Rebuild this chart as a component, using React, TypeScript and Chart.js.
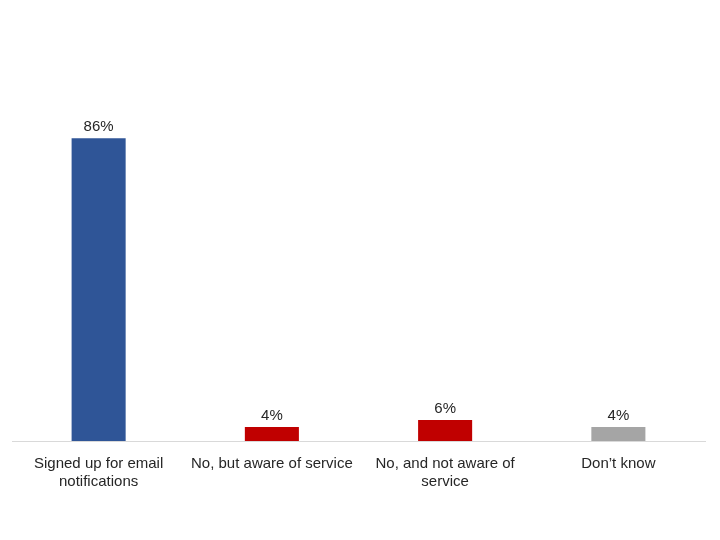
import React, { useEffect, useRef } from "react";
import { Chart, registerables } from "chart.js";

Chart.register(...registerables);

const categories: (string | string[])[] = [
  ["Signed up for email", "notifications"],
  "No, but aware of service",
  ["No, and not aware of", "service"],
  "Don\u2019t know",
];
const values: number[] = [86, 4, 6, 4];
const barColors: string[] = ["#2F5597", "#C00000", "#C00000", "#A5A5A5"];

const FONT = "'Liberation Sans', Arial, sans-serif";

const labelPlugin = {
  id: "valueLabels",
  afterDatasetsDraw(chart: any) {
    const ctx = chart.ctx;
    const meta = chart.getDatasetMeta(0);
    ctx.save();
    ctx.font = `15px ${FONT}`;
    ctx.fillStyle = "#262626";
    ctx.textAlign = "center";
    ctx.textBaseline = "bottom";
    meta.data.forEach((bar: any, i: number) => {
      ctx.fillText(values[i] + "%", bar.x, bar.y - 4);
    });
    ctx.restore();
  },
};

export default function App() {
  const ref = useRef<HTMLCanvasElement>(null);
  useEffect(() => {
    if (!ref.current) return;
    const chart = new Chart(ref.current, {
      type: "bar",
      data: {
        labels: categories,
        datasets: [
          {
            data: values,
            backgroundColor: barColors,
            barPercentage: 0.312,
            categoryPercentage: 1,
          },
        ],
      },
      options: {
        animation: false,
        responsive: false,
        maintainAspectRatio: false,
        layout: { padding: { left: 12, right: 15, top: 89, bottom: 43 } },
        plugins: { legend: { display: false }, tooltip: { enabled: false } },
        scales: {
          y: { display: false, min: 0, max: 100 },
          x: {
            grid: { display: false },
            border: { color: "#D9D9D9", width: 1 },
            ticks: {
              color: "#262626",
              font: { family: FONT, size: 15, lineHeight: 1.2 },
              padding: 6,
              maxRotation: 0,
              autoSkip: false,
            },
          },
        },
      },
      plugins: [labelPlugin],
    });
    return () => chart.destroy();
  }, []);
  return (
    <div style={{ position: "fixed", left: 0, top: 0, width: 720, height: 540, background: "#fff" }}>
      <canvas ref={ref} width={720} height={540} />
    </div>
  );
}
